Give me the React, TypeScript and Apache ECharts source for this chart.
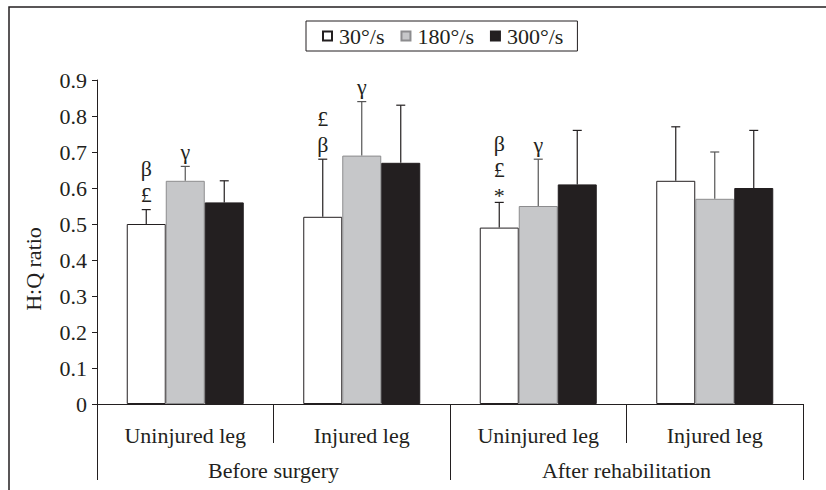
import React, { useEffect, useRef } from "react";
import * as echarts from "echarts";

const categories = ["Uninjured leg", "Injured leg", "Uninjured leg", "Injured leg"];
const phases = ["Before surgery", "After rehabilitation"];
const speeds = ["30°/s", "180°/s", "300°/s"];
const yName = "H:Q ratio";

const mean30 = [0.5, 0.52, 0.49, 0.62];
const mean180 = [0.62, 0.69, 0.55, 0.57];
const mean300 = [0.56, 0.67, 0.61, 0.6];

const upper30 = [0.54, 0.68, 0.56, 0.77];
const upper180 = [0.66, 0.84, 0.68, 0.7];
const upper300 = [0.62, 0.83, 0.76, 0.76];

const notes30 = [["β", "£"], ["£", "β"], ["β", "£", "*"], []];
const notes180 = [["γ"], ["γ"], ["γ"], []];
const notes300: string[][] = [[], [], [], []];

const yTicks = [0, 0.1, 0.2, 0.3, 0.4, 0.5, 0.6, 0.7, 0.8, 0.9];

const FONT = "Liberation Serif, Times New Roman, serif";
const INK = "#231f20";
const BAR_W = 39;
const FS = 22;

const fills = ["#ffffff", "#c6c7c9", INK];
const borders = [INK, "#8c8c8e", INK];
const errColors = [INK, "#555555", INK];

export default function App() {
  const ref = useRef<HTMLDivElement>(null);
  useEffect(() => {
    document.body.style.margin = "0";
    const chart = echarts.init(ref.current!, null, { renderer: "svg" });
    const means = [mean30, mean180, mean300];
    const uppers = [upper30, upper180, upper300];
    const notes = [notes30, notes180, notes300];

    const barSeries = speeds.map((name, k) => ({
      name,
      type: "bar",
      xAxisIndex: 0,
      barWidth: BAR_W,
      barGap: "0%",
      data: means[k],
      itemStyle: { color: fills[k], borderColor: borders[k], borderWidth: 1 },
      z: 2,
    }));

    const errSeries = speeds.map((name, k) => ({
      name: name + "-err",
      type: "custom",
      xAxisIndex: 0,
      z: 3,
      silent: true,
      encode: { x: 0, y: [1, 2] },
      data: categories.map((_, i) => [i, means[k][i], uppers[k][i]]),
      renderItem: (params: any, api: any) => {
        const i = api.value(0);
        const base = api.coord([i, api.value(1)]);
        const top = api.coord([i, api.value(2)]);
        const x = base[0] + (k - 1) * BAR_W;
        const st = { stroke: errColors[k], lineWidth: 1.2 };
        const children: any[] = [
          { type: "line", shape: { x1: x, y1: base[1], x2: x, y2: top[1] }, style: st },
          { type: "line", shape: { x1: x - 4.5, y1: top[1], x2: x + 4.5, y2: top[1] }, style: st },
        ];
        const n = notes[k][i];
        if (n && n.length) {
          const last = n[n.length - 1];
          children.push({
            type: "text",
            style: {
              text: n.join("\n"),
              x,
              y: top[1] + (last === "*" ? 6 : -2),
              align: "center",
              verticalAlign: "bottom",
              fontFamily: FONT,
              fontSize: FS,
              lineHeight: 26,
              fill: INK,
            },
          });
        }
        return { type: "group", children };
      },
    }));

    chart.setOption({
      animation: false,
      backgroundColor: "#ffffff",
      textStyle: { fontFamily: FONT, color: INK },
      graphic: [
        {
          type: "polyline",
          shape: { points: [[9, 490], [9, 7], [826, 7]] },
          style: { stroke: INK, lineWidth: 1.5, fill: "none" },
          silent: true,
        },
        {
          type: "text",
          x: 33,
          y: 269,
          rotation: Math.PI / 2,
          silent: true,
          style: {
            text: yName,
            align: "center",
            verticalAlign: "middle",
            fontFamily: FONT,
            fontSize: FS,
            fill: INK,
          },
        },
      ],
      legend: {
        data: speeds,
        left: 306,
        top: 21,
        orient: "horizontal",
        padding: [4, 14, 4, 16],
        itemGap: 16,
        itemWidth: 9,
        itemHeight: 9,
        icon: "rect",
        borderColor: INK,
        borderWidth: 1,
        textStyle: { fontFamily: FONT, fontSize: FS, color: INK, padding: [0, 0, 0, 2] },
      },
      grid: { left: 97, right: 23, top: 80, bottom: 86, containLabel: false },
      xAxis: [
        {
          type: "category",
          data: categories,
          position: "bottom",
          axisLine: { show: true, lineStyle: { color: INK, width: 1 } },
          axisTick: { show: true, length: 39, lineStyle: { color: INK, width: 1 } },
          axisLabel: { fontFamily: FONT, fontSize: FS, color: INK, margin: 20 },
        },
        {
          type: "category",
          data: phases,
          position: "bottom",
          axisLine: { show: false },
          axisTick: { show: true, length: 76, lineStyle: { color: INK, width: 1 } },
          axisLabel: { fontFamily: FONT, fontSize: FS, color: INK, margin: 55 },
        },
      ],
      yAxis: {
        type: "value",
        min: yTicks[0],
        max: yTicks[yTicks.length - 1],
        interval: 0.1,
        axisLine: { show: true, lineStyle: { color: INK, width: 1 } },
        axisTick: { show: true, length: 5, lineStyle: { color: INK, width: 1 } },
        splitLine: { show: false },
        axisLabel: {
          fontFamily: FONT,
          fontSize: FS,
          color: INK,
          margin: 10,
          formatter: (v: number) => (Math.round(v * 10) / 10).toString(),
        },
      },
      series: [...barSeries, ...errSeries],
    });
    return () => chart.dispose();
  }, []);
  return <div ref={ref} style={{ width: 826, height: 490 }} />;
}
